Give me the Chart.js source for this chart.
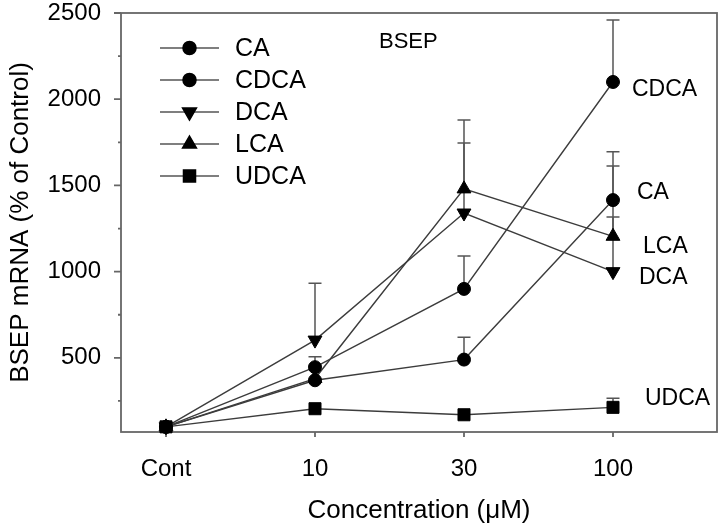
<!DOCTYPE html>
<html>
<head>
<meta charset="utf-8">
<script src="https://cdn.jsdelivr.net/npm/chart.js@4/dist/chart.umd.min.js"></script>
<style>
  html, body { margin: 0; padding: 0; background: #fff; }
</style>
</head>
<body>
<canvas id="grafico" width="720" height="529"></canvas>
<script>
// datos
const categorias = ['Cont', '10', '30', '100'];
const nombres = ['CA', 'CDCA', 'DCA', 'LCA', 'UDCA'];

const valoresCA   = [100, 370, 490, 1415];
const valoresCDCA = [100, 446, 900, 2100];
const valoresDCA  = [100, 603, 1340, 1000];
const valoresLCA  = [100, 380, 1480, 1205];
const valoresUDCA = [100, 205, 170, 213];

// barras de error (solo hacia arriba)
const errorCA   = [0, 0, 130, 280];
const errorCDCA = [0, 60, 190, 360];
const errorDCA  = [0, 330, 406, 613];
const errorLCA  = [0, 0, 400, 112];
const errorUDCA = [0, 0, 0, 53];

const ticksY = [500, 1000, 1500, 2000, 2500];
const ticksYmenores = [250, 750, 1250, 1750, 2250];

const valores = [valoresCA, valoresCDCA, valoresDCA, valoresLCA, valoresUDCA];
const errores = [errorCA, errorCDCA, errorDCA, errorLCA, errorUDCA];

const fuente = '"Liberation Sans", Arial, sans-serif';
Chart.defaults.font.family = fuente;
Chart.defaults.color = '#000';

// estilo de marcador de cada serie
const marcadores = [
  { pointStyle: 'circle', rotation: 0, radius: 6.5 },
  { pointStyle: 'circle', rotation: 0, radius: 6.5 },
  { pointStyle: 'triangle', rotation: 180, radius: 8 },
  { pointStyle: 'triangle', rotation: 0, radius: 8 },
  { pointStyle: 'rect', rotation: 0, radius: 8.5 }
];

// etiquetas a la derecha, desplazadas desde el ultimo punto
const etiquetasDerecha = [
  { dx: 24, dy: -7 },   // CA
  { dx: 19, dy: 8 },    // CDCA
  { dx: 26, dy: 6 },    // DCA
  { dx: 30, dy: 10 },   // LCA
  { dx: 32, dy: -9 }    // UDCA
];

const barrasError = {
  id: 'barrasError',
  beforeDatasetsDraw(chart) {
    const { ctx, scales: { x, y } } = chart;
    ctx.save();
    ctx.strokeStyle = '#555';
    ctx.lineWidth = 1.5;
    errores.forEach((serie, d) => {
      serie.forEach((e, i) => {
        if (!e) return;
        const px = x.getPixelForValue(i);
        const y0 = y.getPixelForValue(valores[d][i]);
        const y1 = y.getPixelForValue(valores[d][i] + e);
        ctx.beginPath();
        ctx.moveTo(px, y0); ctx.lineTo(px, y1);
        ctx.moveTo(px - 6.5, y1); ctx.lineTo(px + 6.5, y1);
        ctx.stroke();
      });
    });
    ctx.restore();
  }
};

const marco = {
  id: 'marco',
  beforeDatasetsDraw(chart) {
    const { ctx, chartArea: a, scales: { x, y } } = chart;
    ctx.save();
    ctx.strokeStyle = '#666';
    ctx.lineWidth = 1.8;
    ctx.strokeRect(a.left, a.top, a.right - a.left, a.bottom - a.top);
    ctx.beginPath();
    ticksY.forEach(v => {
      const py = y.getPixelForValue(v);
      ctx.moveTo(a.left - 7, py); ctx.lineTo(a.left, py);
    });
    ticksYmenores.forEach(v => {
      const py = y.getPixelForValue(v);
      ctx.moveTo(a.left - 3, py); ctx.lineTo(a.left, py);
    });
    categorias.forEach((c, i) => {
      const px = x.getPixelForValue(i);
      ctx.moveTo(px, a.bottom); ctx.lineTo(px, a.bottom + 5);
    });
    ctx.stroke();
    ctx.restore();
  }
};

const textos = {
  id: 'textos',
  afterDatasetsDraw(chart) {
    const { ctx, scales: { x, y } } = chart;
    ctx.save();
    ctx.fillStyle = '#000';
    ctx.textBaseline = 'middle';
    ctx.textAlign = 'left';

    // leyenda dentro del grafico
    nombres.forEach((n, i) => {
      const yy = 48 + 32 * i;
      ctx.strokeStyle = '#555';
      ctx.lineWidth = 1.5;
      ctx.beginPath();
      ctx.moveTo(160, yy); ctx.lineTo(219, yy);
      ctx.stroke();
      ctx.fillStyle = '#000';
      ctx.strokeStyle = '#000';
      Chart.helpers.drawPoint(ctx, {
        pointStyle: marcadores[i].pointStyle,
        rotation: marcadores[i].rotation,
        radius: marcadores[i].radius,
        borderWidth: 1
      }, 189.5, yy);
      ctx.font = '25px ' + fuente;
      ctx.fillText(n, 235, yy + 1);
    });

    ctx.font = '22px ' + fuente;
    ctx.fillText('BSEP', 379, 42);

    // etiquetas al final de cada serie
    ctx.font = '23px ' + fuente;
    nombres.forEach((n, i) => {
      const ultimo = valores[i].length - 1;
      const px = x.getPixelForValue(ultimo) + etiquetasDerecha[i].dx;
      const py = y.getPixelForValue(valores[i][ultimo]) + etiquetasDerecha[i].dy;
      ctx.fillText(n, px, py);
    });
    ctx.restore();
  }
};

const ctx = document.getElementById('grafico').getContext('2d');
new Chart(ctx, {
  type: 'line',
  data: {
    datasets: nombres.map((n, d) => ({
      label: n,
      data: valores[d].map((v, i) => ({ x: i, y: v })),
      borderColor: '#3c3c3c',
      borderWidth: 1.4,
      pointBackgroundColor: '#000',
      pointBorderColor: '#000',
      pointBorderWidth: 1,
      pointStyle: marcadores[d].pointStyle,
      pointRotation: marcadores[d].rotation,
      pointRadius: marcadores[d].radius,
      tension: 0,
      clip: false
    }))
  },
  options: {
    responsive: false,
    animation: false,
    layout: { autoPadding: false, padding: { top: 13, right: 3, left: 0, bottom: 0 } },
    plugins: { legend: { display: false }, tooltip: { enabled: false } },
    scales: {
      x: {
        type: 'linear',
        min: -0.302,
        max: 3.698,
        afterBuildTicks: s => { s.ticks = categorias.map((c, i) => ({ value: i })); },
        afterFit: s => { s.height = 97; s.paddingLeft = 0; s.paddingRight = 0; },
        grid: { display: false, drawTicks: false },
        border: { display: false },
        ticks: {
          padding: 23,
          font: { size: 24 },
          callback: v => categorias[v]
        },
        title: {
          display: true,
          text: 'Concentration (μM)',
          font: { size: 26 },
          padding: { top: 0, bottom: 3 }
        }
      },
      y: {
        min: 70,
        max: 2500,
        afterBuildTicks: s => { s.ticks = ticksY.map(v => ({ value: v })); },
        afterFit: s => { s.width = 121; s.paddingTop = 0; s.paddingBottom = 0; },
        grid: { display: false, drawTicks: false },
        border: { display: false },
        ticks: { padding: 20, font: { size: 24 }, callback: v => String(v) },
        title: {
          display: true,
          text: 'BSEP mRNA (% of Control)',
          font: { size: 26 },
          padding: { top: 5, bottom: 0 }
        }
      }
    }
  },
  plugins: [marco, barrasError, textos]
});
</script>
</body>
</html>
